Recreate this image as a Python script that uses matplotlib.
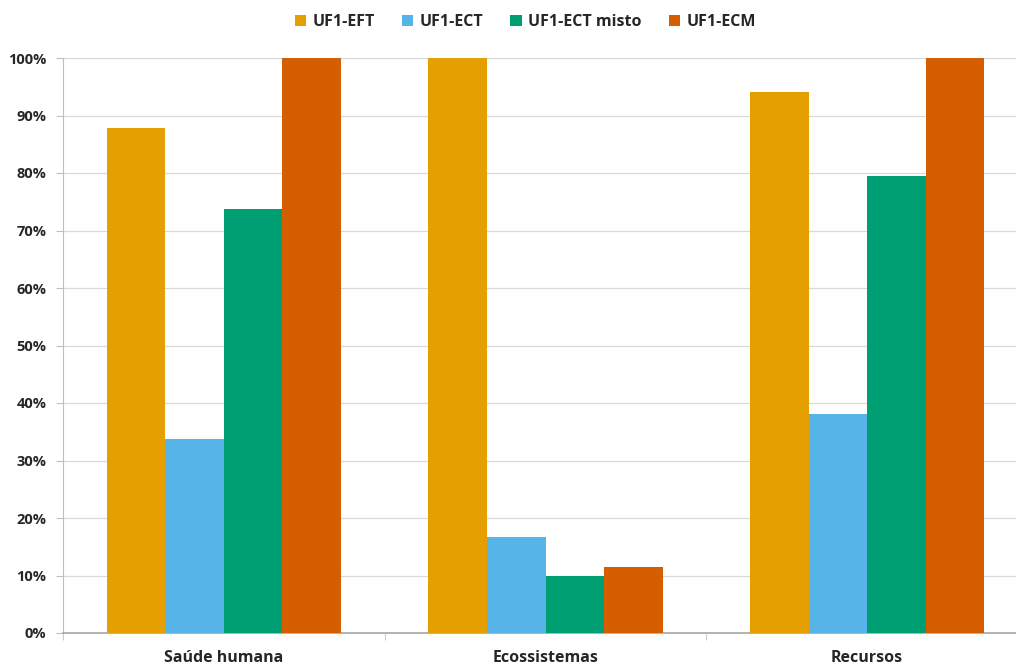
import matplotlib
matplotlib.use("Agg")
import matplotlib.pyplot as plt
import numpy as np
from matplotlib.ticker import PercentFormatter, FixedLocator

categories = ["Saúde humana", "Ecossistemas", "Recursos"]
series_names = ["UF1-EFT", "UF1-ECT", "UF1-ECT misto", "UF1-ECM"]
uf1_eft = [87.8, 100.0, 94.1]
uf1_ect = [33.7, 16.7, 38.1]
uf1_ect_misto = [73.7, 9.9, 79.5]
uf1_ecm = [100.0, 11.5, 100.0]
colors = ["#E69F00", "#56B4E9", "#009E73", "#D55E00"]

plt.rcParams["font.family"] = ["Open Sans", "DejaVu Sans"]

fig = plt.figure(figsize=(10.16, 6.70), dpi=100)
ax = fig.add_axes([63 / 1016, 1 - 633 / 670, (1028 - 63) / 1016, (633 - 58) / 670])

x = np.arange(len(categories))
width = 0.182
all_series = [uf1_eft, uf1_ect, uf1_ect_misto, uf1_ecm]
for i, (name, vals, c) in enumerate(zip(series_names, all_series, colors)):
    ax.bar(x + (i - 1.5) * width, vals, width, color=c, label=name, zorder=3)

ax.set_xlim(-0.5, len(categories) - 0.5)
ax.set_ylim(0, 100)
ax.set_yticks(np.arange(0, 101, 10))
ax.yaxis.set_major_formatter(PercentFormatter(decimals=0))
ax.grid(axis="y", color="#D9D9D9", linewidth=0.9, zorder=0)

ax.set_xticks(x)
ax.set_xticklabels(categories)
ax.xaxis.set_minor_locator(FixedLocator(np.arange(-0.5, len(categories), 1.0)))
ax.tick_params(axis="x", which="major", length=0, pad=12, labelsize=11.5, labelcolor="#262626")
ax.tick_params(axis="x", which="minor", length=5, color="#BFBFBF", direction="out")
ax.tick_params(axis="y", length=5, color="#BFBFBF", labelsize=10.5, labelcolor="#262626", pad=7)
for lab in ax.get_xticklabels() + ax.get_yticklabels():
    lab.set_fontweight("bold")

for side in ["top", "right"]:
    ax.spines[side].set_visible(False)
ax.spines["left"].set_color("#BFBFBF")
ax.spines["bottom"].set_color("#A6A6A6")
ax.spines["bottom"].set_linewidth(1.2)

leg = fig.legend(loc="center", bbox_to_anchor=(0.517, 1 - 22 / 670), ncol=4, frameon=False,
                 handlelength=0.7, handleheight=0.7, handletextpad=0.4, columnspacing=1.7,
                 prop={"size": 11.5, "weight": "bold"})
for t in leg.get_texts():
    t.set_color("#262626")

fig.savefig("out.png", dpi=100)
